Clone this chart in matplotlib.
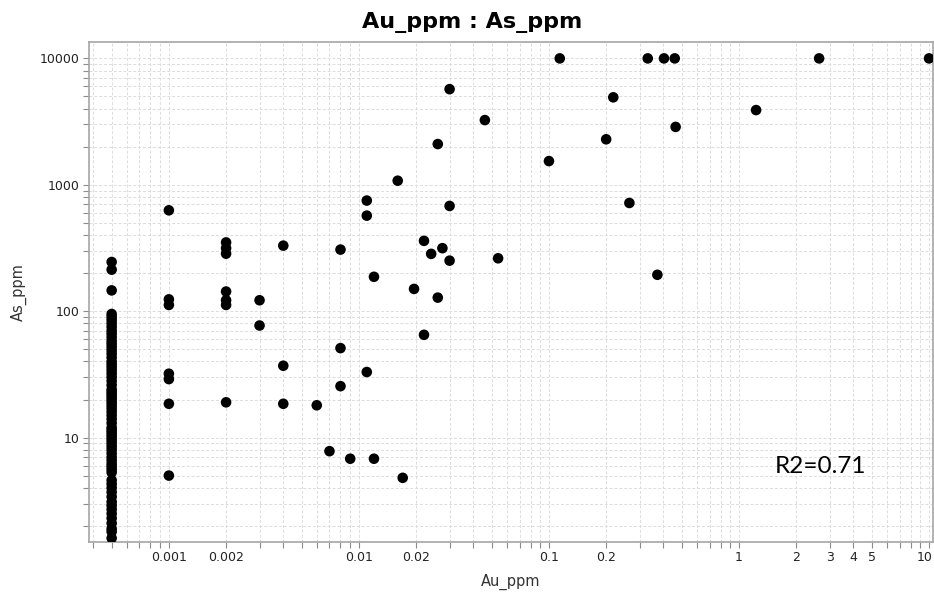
import matplotlib.pyplot as plt
from matplotlib.ticker import FixedLocator, FixedFormatter, LogLocator, NullFormatter
from matplotlib.transforms import ScaledTranslation

# columna de muestras bajo el limite de deteccion (Au = 0.0005)
as_bajo_ld = [245, 213, 146, 95, 90, 85, 80, 75, 70, 66, 62, 58, 55, 52, 49, 46,
              43, 40, 38, 36, 34, 32, 30, 28, 26, 24, 23, 22, 21, 20, 19, 18, 17,
              16, 15, 14, 13, 12, 11.5, 11, 10.5, 10, 9.5, 9, 8.5, 8, 7.5, 7, 6.6,
              6.2, 5.9, 5.6, 5.3, 4.6, 4.3, 4.0, 3.7, 3.4, 3.1, 2.9, 2.7, 2.5, 2.3,
              2.1, 1.9, 1.8, 1.6]
au_bajo_ld = [0.0005] * len(as_bajo_ld)

# resto de muestras
au_ppm = [0.001, 0.001, 0.001, 0.001, 0.001, 0.001, 0.001,
          0.002, 0.002, 0.002, 0.002, 0.002, 0.002, 0.002,
          0.003, 0.003, 0.004, 0.004, 0.004, 0.006, 0.007,
          0.008, 0.008, 0.008, 0.009, 0.011, 0.011, 0.011,
          0.012, 0.012, 0.016, 0.017, 0.0195, 0.022, 0.022,
          0.024, 0.026, 0.026, 0.0275, 0.03, 0.03, 0.03,
          0.046, 0.054, 0.1, 0.114, 0.2, 0.218, 0.265,
          0.331, 0.372, 0.403, 0.459, 0.464, 1.23, 2.64, 10]
as_ppm = [628, 124, 112, 32, 29, 18.5, 5,
          350, 315, 285, 143, 122, 112, 19,
          122, 77, 330, 37, 18.5, 18, 7.8,
          307, 51, 25.5, 6.8, 750, 570, 33,
          187, 6.8, 1077, 4.8, 150, 360, 65,
          284, 2100, 128, 315, 5710, 680, 251,
          3250, 262, 1540, 10000, 2290, 4920, 718,
          10000, 194, 10000, 10000, 2870, 3900, 10000, 10000]

x_ticks = [0.001, 0.002, 0.01, 0.02, 0.1, 0.2, 1, 2, 3, 4, 5, 10]
x_tick_labels = ['0.001', '0.002', '0.01', '0.02', '0.1', '0.2', '1', '2', '3', '4', '5', '10']
y_ticks = [10, 100, 1000, 10000]
y_tick_labels = ['10', '100', '1000', '10000']

plt.rcParams['font.family'] = ['DejaVu Sans']

fig = plt.figure(figsize=(9.34, 5.92), dpi=100)
ax = fig.add_axes([0.0953, 0.085, 0.9037, 0.8435])

ax.scatter(au_bajo_ld + au_ppm, as_bajo_ld + as_ppm, s=58, color='black',
           edgecolors='none', zorder=3)

ax.set_xscale('log')
ax.set_yscale('log')
ax.set_xlim(3.8e-4, 10.5)
ax.set_ylim(1.5, 13400)

ax.xaxis.set_major_locator(FixedLocator(x_ticks))
ax.xaxis.set_major_formatter(FixedFormatter(x_tick_labels))
ax.xaxis.set_minor_locator(LogLocator(base=10, subs=range(1, 10), numticks=30))
ax.xaxis.set_minor_formatter(NullFormatter())
ax.yaxis.set_major_locator(FixedLocator(y_ticks))
ax.yaxis.set_major_formatter(FixedFormatter(y_tick_labels))
ax.yaxis.set_minor_locator(LogLocator(base=10, subs=range(1, 10), numticks=30))
ax.yaxis.set_minor_formatter(NullFormatter())

ax.grid(which='both', linestyle=(0, (3, 2)), linewidth=0.7, color='#dcdcdc', zorder=0)
ax.set_axisbelow(True)
ax.tick_params(which='both', direction='out', colors='#8c8c8c', labelcolor='#222222',
               labelsize=9, length=4, width=0.8, pad=3)
for lado in ax.spines.values():
    lado.set_color('#a6a6a6')
    lado.set_linewidth(1.2)

# la etiqueta "10" queda pegada al borde derecho: se corre un poco a la izquierda
ultima = ax.xaxis.get_major_ticks()[-1].label1
ultima.set_transform(ultima.get_transform() + ScaledTranslation(-4 / 100, 0, fig.dpi_scale_trans))

fig.text(0.505, 1 - 28 / 592, 'Au_ppm : As_ppm', fontsize=16, fontweight='bold',
         ha='center', va='baseline')
ax.set_xlabel('Au_ppm', fontsize=10.5, color='#333333', labelpad=7)
ax.set_ylabel('As_ppm', fontsize=10.5, color='#333333', labelpad=9)

ax.text(0.813, 0.15, 'R2=0.71', transform=ax.transAxes, fontsize=17.5,
        family=['Lato', 'DejaVu Sans'], va='center', ha='left', color='black')

plt.savefig('out.png', dpi=100)
